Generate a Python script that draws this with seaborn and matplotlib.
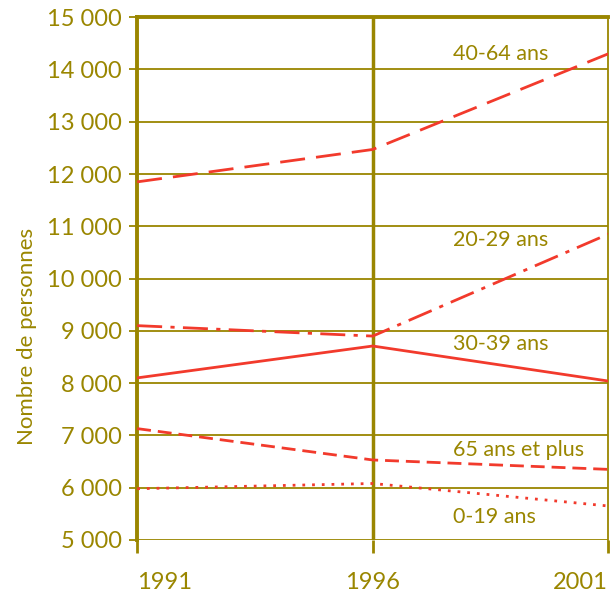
import pandas as pd
import matplotlib.pyplot as plt
import seaborn as sns

# --- data ---
years = [1991, 1996, 2001]
groups = ['40-64 ans', '20-29 ans', '30-39 ans', '65 ans et plus', '0-19 ans']
v_40_64 = [11850, 12470, 14300]
v_20_29 = [9100, 8900, 10850]
v_30_39 = [8100, 8710, 8040]
v_65_plus = [7130, 6530, 6350]
v_0_19 = [5980, 6080, 5650]
label_y = [14300, 10740, 8750, 6720, 5440]
yticks = list(range(5000, 15001, 1000))

olive = '#9a8600'
red = '#f23a2c'

df = pd.DataFrame({
    'annee': years * 5,
    'groupe': sum([[g] * 3 for g in groups], []),
    'n': v_40_64 + v_20_29 + v_30_39 + v_65_plus + v_0_19,
})

sns.set_style('white')
plt.rcParams['font.family'] = ['Lato', 'DejaVu Sans']

fig = plt.figure(figsize=(6.15, 5.94), dpi=100)
ax = fig.add_axes([0.223, 0.091, 0.766, 0.880])

dash_map = {
    '40-64 ans': (9, 4),
    '20-29 ans': (9, 3, 1.5, 3),
    '30-39 ans': '',
    '65 ans et plus': (5, 2.5),
    '0-19 ans': (1, 2.5),
}
sns.lineplot(data=df, x='annee', y='n', hue='groupe', style='groupe',
             palette=[red] * 5, dashes=dash_map, linewidth=2,
             legend=False, ax=ax, zorder=3)

ax.set_xlim(1991, 2001)
ax.set_ylim(5000, 15000)
ax.set_xticks(years)
ax.set_xticklabels([str(y) for y in years])
ax.set_yticks(yticks)
ax.set_yticklabels([f'{v:,}'.replace(',', ' ') for v in yticks])

# grid
for v in yticks[:-1]:
    ax.axhline(v, color=olive, lw=1.3, zorder=1)
ax.axvline(1996, color=olive, lw=2.5, zorder=2)

ax.spines['bottom'].set_visible(False)
ax.spines['left'].set_color(olive)
ax.spines['left'].set_linewidth(2.8)
ax.spines['top'].set_color(olive)
ax.spines['top'].set_linewidth(2.8)
ax.spines['right'].set_color(olive)
ax.spines['right'].set_linewidth(1.3)

ax.tick_params(axis='y', colors=olive, labelsize=17, length=6, width=1.3,
               direction='out', left=True, pad=5)
ax.tick_params(axis='x', colors=olive, labelsize=17, length=9, width=2,
               direction='out', bottom=True, pad=14)
xl = ax.get_xticklabels()
xl[0].set_ha('left')
xl[-1].set_ha('right')
ax.set_xlabel('')
ax.set_ylabel('Nombre de personnes', color=olive, fontsize=16, labelpad=4)
ax.yaxis.set_label_coords(-0.212, 0.39)

for g, y in zip(groups, label_y):
    ax.text(1997.7, y, g, color=olive, fontsize=15.5, va='center', ha='left')

plt.savefig('out.png', dpi=100)
